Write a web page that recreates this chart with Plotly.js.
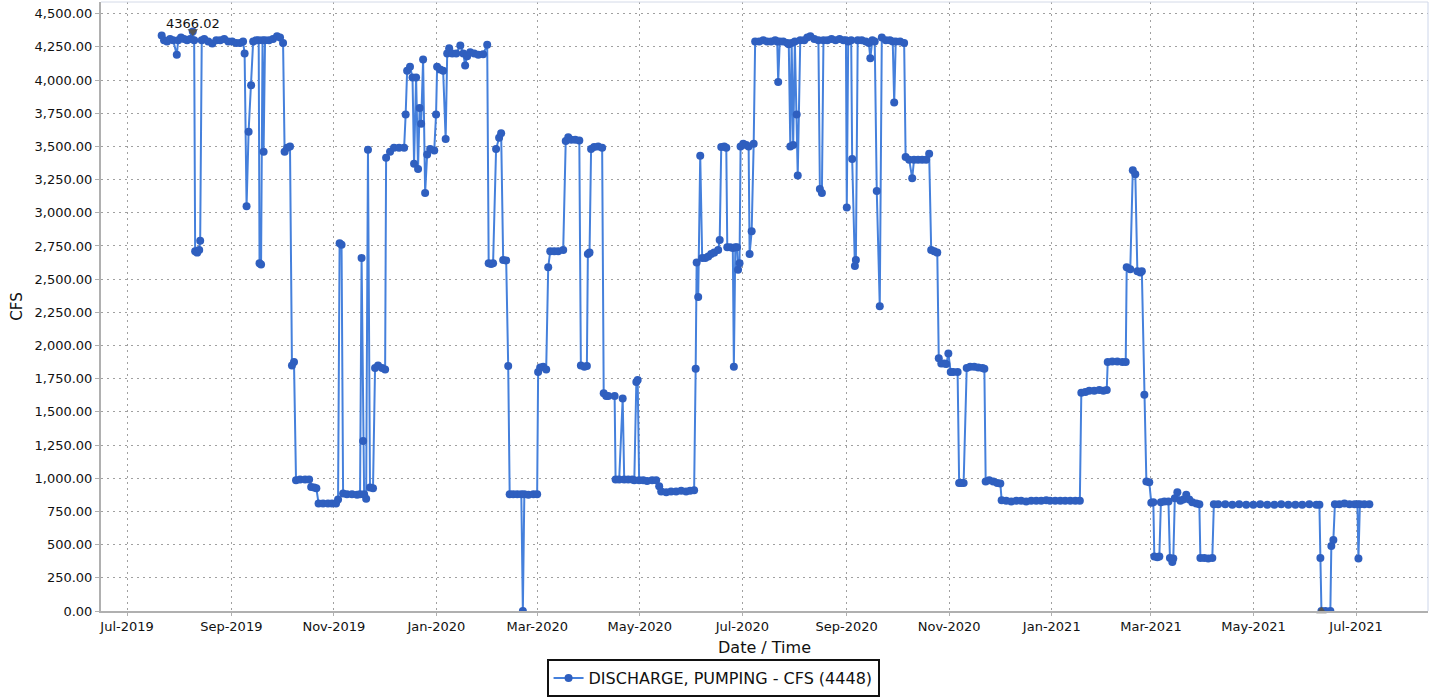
<!DOCTYPE html>
<html>
<head>
<meta charset="utf-8">
<script src="https://cdn.plot.ly/plotly-3.0.1.min.js"></script>
<style>html,body{margin:0;padding:0;background:#fff;}#chart{width:1435px;height:700px;}</style>
</head>
<body>
<div id="chart"></div>
<script>
const seriesName = "DISCHARGE, PUMPING - CFS (4448)";
const dates = [
"2019-07-21 14:00","2019-07-23 00:00","2019-07-24 19:00","2019-07-26 14:00","2019-07-28 10:00","2019-07-30 14:00","2019-07-31 10:00",
"2019-08-02 02:00","2019-08-03 22:00","2019-08-05 17:00","2019-08-07 12:00","2019-08-09 02:00","2019-08-09 22:00","2019-08-10 12:00",
"2019-08-11 17:00","2019-08-12 22:00","2019-08-13 12:00","2019-08-14 10:00","2019-08-15 22:00","2019-08-18 07:00","2019-08-20 17:00",
"2019-08-23 02:00","2019-08-25 10:00","2019-08-27 19:00","2019-08-30 05:00","2019-09-01 12:00","2019-09-03 22:00","2019-09-06 05:00",
"2019-09-08 00:00","2019-09-08 22:00","2019-09-10 02:00","2019-09-11 07:00","2019-09-12 19:00","2019-09-14 00:00","2019-09-15 19:00",
"2019-09-17 07:00","2019-09-17 19:00","2019-09-18 17:00","2019-09-19 14:00","2019-09-20 05:00","2019-09-21 02:00","2019-09-23 10:00",
"2019-09-25 19:00","2019-09-28 05:00","2019-09-30 00:00","2019-10-01 19:00","2019-10-02 17:00","2019-10-04 05:00","2019-10-05 22:00",
"2019-10-07 02:00","2019-10-08 07:00","2019-10-09 12:00","2019-10-11 22:00","2019-10-14 22:00","2019-10-17 07:00","2019-10-18 12:00",
"2019-10-20 07:00","2019-10-21 14:00","2019-10-22 22:00","2019-10-25 14:00","2019-10-28 12:00","2019-10-30 22:00","2019-11-02 07:00",
"2019-11-03 12:00","2019-11-04 10:00","2019-11-05 14:00","2019-11-06 12:00","2019-11-08 19:00","2019-11-11 19:00","2019-11-14 19:00",
"2019-11-16 14:00","2019-11-17 12:00","2019-11-18 10:00","2019-11-19 00:00","2019-11-20 05:00","2019-11-21 07:00","2019-11-22 12:00",
"2019-11-24 07:00","2019-11-25 12:00","2019-11-27 07:00","2019-11-29 17:00","2019-12-01 12:00","2019-12-02 02:00","2019-12-04 10:00",
"2019-12-06 19:00","2019-12-09 19:00","2019-12-12 19:00","2019-12-13 17:00","2019-12-14 14:00","2019-12-16 07:00","2019-12-17 19:00",
"2019-12-18 17:00","2019-12-19 22:00","2019-12-21 02:00","2019-12-22 00:00","2019-12-22 22:00","2019-12-24 02:00","2019-12-25 07:00",
"2019-12-26 12:00","2019-12-28 07:00","2019-12-30 17:00","2019-12-31 19:00","2020-01-01 10:00","2020-01-03 05:00","2020-01-05 00:00",
"2020-01-06 12:00","2020-01-07 10:00","2020-01-08 14:00","2020-01-10 10:00","2020-01-12 19:00","2020-01-15 05:00","2020-01-17 00:00",
"2020-01-18 02:00","2020-01-19 07:00","2020-01-21 02:00","2020-01-23 12:00","2020-01-25 22:00","2020-01-28 19:00","2020-01-31 05:00",
"2020-02-01 02:00","2020-02-02 12:00","2020-02-03 17:00","2020-02-05 12:00","2020-02-07 07:00","2020-02-08 12:00","2020-02-09 17:00",
"2020-02-11 12:00","2020-02-12 17:00","2020-02-13 14:00","2020-02-15 17:00","2020-02-18 02:00","2020-02-20 12:00","2020-02-21 10:00",
"2020-02-22 07:00","2020-02-24 17:00","2020-02-27 17:00","2020-02-29 22:00","2020-03-01 12:00","2020-03-02 17:00","2020-03-04 12:00",
"2020-03-06 07:00","2020-03-07 12:00","2020-03-08 17:00","2020-03-11 02:00","2020-03-13 10:00","2020-03-16 10:00","2020-03-17 22:00",
"2020-03-19 10:00","2020-03-21 05:00","2020-03-23 14:00","2020-03-26 00:00","2020-03-26 22:00","2020-03-29 00:00","2020-03-30 12:00",
"2020-03-31 02:00","2020-04-01 02:00","2020-04-02 00:00","2020-04-03 19:00","2020-04-06 05:00","2020-04-08 14:00","2020-04-09 12:00",
"2020-04-11 00:00","2020-04-12 05:00","2020-04-16 00:00","2020-04-16 14:00","2020-04-18 17:00","2020-04-20 19:00","2020-04-21 17:00",
"2020-04-24 02:00","2020-04-26 12:00","2020-04-27 17:00","2020-04-28 22:00","2020-04-29 17:00","2020-04-30 14:00","2020-05-03 00:00",
"2020-05-05 07:00","2020-05-08 07:00","2020-05-10 17:00","2020-05-12 12:00","2020-05-13 17:00","2020-05-16 17:00","2020-05-19 14:00",
"2020-05-22 14:00","2020-05-25 14:00","2020-05-28 12:00","2020-05-30 22:00","2020-06-02 07:00","2020-06-03 05:00","2020-06-03 19:00",
"2020-06-04 17:00","2020-06-05 22:00","2020-06-07 02:00","2020-06-08 22:00","2020-06-10 17:00","2020-06-12 10:00","2020-06-14 05:00",
"2020-06-16 14:00","2020-06-17 12:00","2020-06-18 10:00","2020-06-20 05:00","2020-06-21 10:00","2020-06-22 00:00","2020-06-23 19:00",
"2020-06-25 07:00","2020-06-25 22:00","2020-06-26 19:00","2020-06-27 19:00","2020-06-28 10:00","2020-06-29 07:00","2020-06-29 22:00",
"2020-07-01 12:00","2020-07-03 07:00","2020-07-04 17:00","2020-07-05 07:00","2020-07-06 12:00","2020-07-07 17:00","2020-07-08 14:00",
"2020-07-11 00:00","2020-07-13 10:00","2020-07-15 17:00","2020-07-18 02:00","2020-07-20 12:00","2020-07-21 17:00","2020-07-22 07:00",
"2020-07-23 05:00","2020-07-25 07:00","2020-07-27 17:00","2020-07-28 14:00","2020-07-29 12:00","2020-07-30 07:00","2020-07-31 05:00",
"2020-08-01 05:00","2020-08-02 07:00","2020-08-02 22:00","2020-08-04 10:00","2020-08-06 19:00","2020-08-08 14:00","2020-08-10 10:00",
"2020-08-12 19:00","2020-08-15 05:00","2020-08-16 02:00","2020-08-17 07:00","2020-08-18 05:00","2020-08-20 14:00","2020-08-23 00:00",
"2020-08-25 10:00","2020-08-27 19:00","2020-08-30 02:00","2020-08-31 14:00","2020-09-01 02:00","2020-09-01 22:00","2020-09-03 17:00",
"2020-09-04 07:00","2020-09-05 22:00","2020-09-06 12:00","2020-09-07 14:00","2020-09-10 00:00","2020-09-12 10:00","2020-09-14 05:00",
"2020-09-15 02:00","2020-09-16 07:00","2020-09-17 17:00","2020-09-18 22:00","2020-09-20 17:00","2020-09-21 22:00","2020-09-24 07:00",
"2020-09-26 17:00","2020-09-28 10:00","2020-09-29 07:00","2020-09-30 05:00","2020-10-02 19:00","2020-10-05 05:00","2020-10-06 02:00",
"2020-10-08 05:00","2020-10-10 00:00","2020-10-11 02:00","2020-10-13 12:00","2020-10-15 22:00","2020-10-18 07:00","2020-10-20 02:00",
"2020-10-21 07:00","2020-10-23 02:00","2020-10-24 22:00","2020-10-25 19:00","2020-10-27 07:00","2020-10-29 02:00","2020-10-30 07:00",
"2020-10-31 12:00","2020-11-01 22:00","2020-11-03 10:00","2020-11-06 00:00","2020-11-06 22:00","2020-11-08 02:00","2020-11-09 14:00",
"2020-11-11 10:00","2020-11-13 12:00","2020-11-15 22:00","2020-11-18 07:00","2020-11-20 17:00","2020-11-21 22:00","2020-11-22 17:00",
"2020-11-24 19:00","2020-11-27 05:00","2020-11-29 14:00","2020-12-01 10:00","2020-12-02 05:00","2020-12-04 22:00","2020-12-07 22:00",
"2020-12-10 22:00","2020-12-13 19:00","2020-12-16 19:00","2020-12-19 19:00","2020-12-22 19:00","2020-12-25 17:00","2020-12-28 17:00",
"2020-12-31 00:00","2021-01-03 02:00","2021-01-06 02:00","2021-01-09 00:00","2021-01-12 00:00","2021-01-15 00:00","2021-01-17 17:00",
"2021-01-18 14:00","2021-01-21 00:00","2021-01-23 07:00","2021-01-26 07:00","2021-01-29 07:00","2021-01-31 17:00","2021-02-02 17:00",
"2021-02-03 07:00","2021-02-06 00:00","2021-02-09 00:00","2021-02-12 00:00","2021-02-14 00:00","2021-02-14 14:00","2021-02-16 17:00",
"2021-02-18 05:00","2021-02-19 17:00","2021-02-20 22:00","2021-02-22 17:00","2021-02-23 14:00","2021-02-25 02:00","2021-02-26 07:00",
"2021-02-28 00:00","2021-03-01 05:00","2021-03-02 10:00","2021-03-03 00:00","2021-03-04 19:00","2021-03-06 00:00","2021-03-06 22:00",
"2021-03-09 00:00","2021-03-11 10:00","2021-03-12 07:00","2021-03-13 17:00","2021-03-14 07:00","2021-03-15 05:00","2021-03-16 17:00",
"2021-03-18 12:00","2021-03-20 05:00","2021-03-22 00:00","2021-03-23 19:00","2021-03-25 14:00","2021-03-28 00:00","2021-03-29 19:00",
"2021-03-30 10:00","2021-04-01 17:00","2021-04-04 02:00","2021-04-06 12:00","2021-04-07 10:00","2021-04-10 00:00","2021-04-14 05:00",
"2021-04-18 10:00","2021-04-22 12:00","2021-04-26 17:00","2021-04-30 22:00","2021-05-05 00:00","2021-05-09 05:00","2021-05-13 10:00",
"2021-05-17 12:00","2021-05-21 17:00","2021-05-25 22:00","2021-05-30 00:00","2021-06-03 05:00","2021-06-07 10:00","2021-06-09 05:00",
"2021-06-09 19:00","2021-06-10 10:00","2021-06-12 19:00","2021-06-15 17:00","2021-06-16 07:00","2021-06-17 12:00","2021-06-18 10:00",
"2021-06-21 02:00","2021-06-24 02:00","2021-06-27 02:00","2021-06-30 02:00","2021-07-01 19:00","2021-07-02 10:00","2021-07-03 07:00",
"2021-07-05 22:00","2021-07-08 22:00"
];
const cfs = [
4335,4300,4290,4310,4300,4190,4300,
4320,4310,4300,4310,4366.02,4300,2710,
2700,2720,2790,4300,4310,4290,4275,
4300,4300,4310,4290,4290,4280,4280,
4290,4200,3050,3610,3960,4290,4300,
4300,2620,2610,4300,3460,4300,4300,
4310,4330,4320,4280,3460,3490,3500,
1850,1875,985,990,990,990,935,
930,925,810,810,810,810,810,
840,2770,2760,885,880,880,875,
880,2660,1280,880,845,3475,930,
925,1830,1850,1830,1820,3415,3460,
3490,3490,3490,3740,4070,4100,4020,
3370,4020,3330,3790,3670,4155,3150,
3440,3480,3470,3740,4100,4080,4070,
3555,4200,4240,4200,4200,4260,4200,
4110,4180,4210,4200,4190,4195,4265,
2620,2615,2620,3480,3565,3600,2645,
2640,1845,880,880,880,880,0,
880,875,880,880,1800,1835,1840,
1820,2590,2710,2710,2710,2720,3540,
3570,3550,3550,3545,1850,1840,1845,
2690,2700,3480,3495,3500,3490,1640,
1620,1620,1620,990,990,1600,990,
990,990,985,1725,1740,985,985,
980,985,985,940,900,895,900,
900,905,900,905,910,1825,2625,
2365,3430,2660,2660,2670,2690,2700,
2720,2795,3495,3500,3490,2740,2740,
2735,1840,2740,2740,2570,2620,3500,
3520,3510,3500,2690,2860,3520,4290,
4290,4300,4290,4290,4300,4290,3985,
4290,4290,4280,4270,3500,4280,3510,
4290,3740,3280,4300,4300,4320,4330,
4310,4300,3180,3150,4300,4300,4310,
4300,4310,4300,4300,3040,4290,4300,
3405,2600,2645,4300,4300,4290,4280,
4165,4300,4290,3165,2295,4320,4300,
4300,4290,3830,4290,4290,4280,3420,
3400,3260,3400,3400,3400,3400,3445,
2720,2710,2700,1905,1865,1865,1860,
1940,1800,1800,1800,965,965,965,
1830,1840,1840,1835,1830,1825,975,
985,975,965,960,835,830,825,
830,830,825,830,830,830,835,
830,830,830,830,830,830,830,
1645,1650,1660,1660,1665,1660,1665,
1875,1880,1880,1875,1875,2590,2575,
3320,3290,2560,2550,2560,1630,975,
970,815,820,410,405,410,820,
825,825,400,370,395,850,895,
830,840,875,840,820,810,805,
400,400,395,400,805,805,805,
800,805,800,800,805,800,800,
805,800,800,800,805,800,800,
400,0,0,0,490,535,805,
805,810,805,805,805,395,805,
805,805
];
const maxPoint = {date: "2019-08-09 02:00", value: 4366.02, label: "4366.02"};
const minPoint = {date: "2021-06-10 10:00", value: 0};
const xTickStart = "2019-07-01";
const xRange = ["2019-06-15 12:00", "2021-08-12 19:00"];
const yRange = [0, 4588];

const font = "DejaVu Sans, Verdana, sans-serif";
const traces = [
  {
    x: dates, y: cfs, type: "scatter", mode: "lines+markers", name: seriesName,
    line: {color: "#4580dc", width: 2},
    marker: {color: "#2f5fbf", size: 8},
    showlegend: true
  },
  {
    x: [maxPoint.date], y: [maxPoint.value], type: "scatter", mode: "markers",
    marker: {symbol: "triangle-down", color: "#555", size: 9},
    showlegend: false, hoverinfo: "skip"
  },
  {
    x: [minPoint.date], y: [minPoint.value], type: "scatter", mode: "markers",
    marker: {symbol: "triangle-up", color: "#555", size: 9},
    showlegend: false, hoverinfo: "skip", cliponaxis: false
  }
];
const layout = {
  width: 1435, height: 700,
  margin: {l: 101, r: 7, t: 2, b: 89},
  paper_bgcolor: "#fff", plot_bgcolor: "#fff",
  font: {family: font, color: "#111", size: 13},
  xaxis: {
    type: "date", range: xRange, tick0: xTickStart, dtick: "M2", tickformat: "%b-%Y",
    showgrid: true, gridcolor: "#a0a0a0", griddash: "2px,4px", gridwidth: 1,
    showline: true, linecolor: "#b0b0b0", linewidth: 1.5,
    ticks: "outside", ticklen: 3, tickcolor: "#b0b0b0",
    tickfont: {family: font, size: 13, color: "#111"},
    title: {text: "Date / Time", font: {family: font, size: 16, color: "#111"}, standoff: 8},
    zeroline: false, automargin: false
  },
  yaxis: {
    range: yRange, dtick: 250, tick0: 0, tickformat: ",.2f",
    showgrid: true, gridcolor: "#a0a0a0", griddash: "2px,4px", gridwidth: 1,
    showline: true, linecolor: "#b0b0b0", linewidth: 2,
    ticks: "outside", ticklen: 4, tickcolor: "#b0b0b0",
    tickfont: {family: font, size: 13, color: "#111"},
    title: {text: "CFS", font: {family: font, size: 15, color: "#111"}, standoff: 8},
    zeroline: false, automargin: false
  },
  legend: {
    orientation: "h", xref: "container", yref: "container",
    x: 0.4969, xanchor: "center", y: 0.004, yanchor: "bottom",
    bordercolor: "#111", borderwidth: 2, bgcolor: "#fff",
    font: {family: font, size: 16, color: "#111"}
  },
  annotations: [{
    x: maxPoint.date, y: maxPoint.value, xref: "x", yref: "y", text: maxPoint.label,
    showarrow: false, yanchor: "middle", yshift: 8,
    font: {family: font, size: 13, color: "#111"}
  }],
  shapes: [
    {type: "line", xref: "paper", yref: "paper", x0: 1, x1: 1, y0: 0, y1: 1, line: {color: "#cdd6ea", width: 1}},
    {type: "line", xref: "paper", yref: "paper", x0: 0, x1: 1, y0: 1, y1: 1, line: {color: "#d4dae8", width: 1}}
  ]
};
Plotly.newPlot("chart", traces, layout, {displayModeBar: false, staticPlot: true});
</script>
</body>
</html>
